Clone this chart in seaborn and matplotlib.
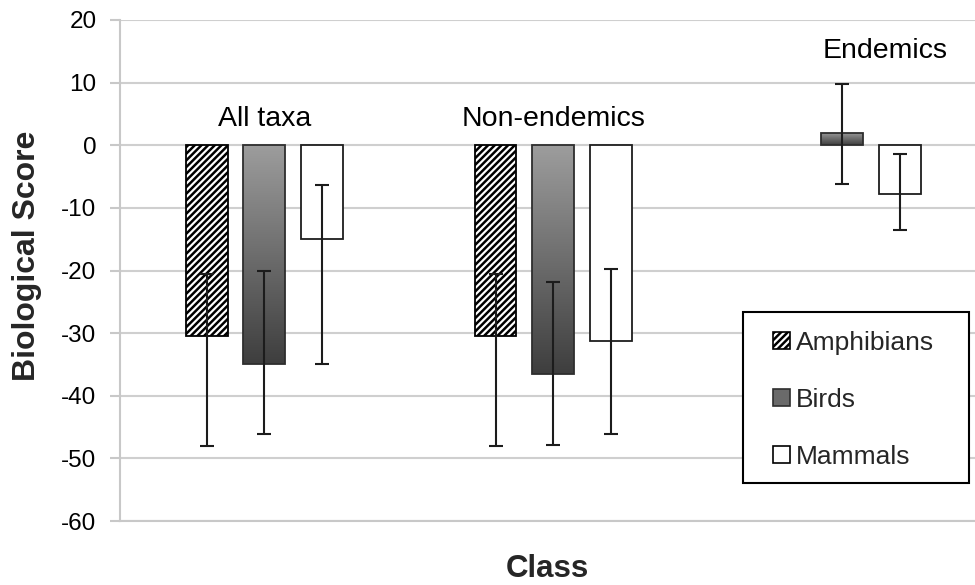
import numpy as np
import pandas as pd
import matplotlib
matplotlib.use("Agg")
import matplotlib.pyplot as plt
import seaborn as sns
from matplotlib.patches import Patch, Rectangle
from matplotlib.colors import LinearSegmentedColormap

groups = ["All taxa", "Non-endemics", "Endemics"]
taxa = ["Amphibians", "Birds", "Mammals"]

amphibians = [-30.5, -30.5, np.nan]
birds = [-35.0, -36.5, 2.0]
mammals = [-15.0, -31.3, -7.8]

# lower / upper ends of the error bars
amphibians_low = [-48.0, -48.0, np.nan]
amphibians_high = [-20.5, -20.6, np.nan]
birds_low = [-46.1, -47.9, -6.2]
birds_high = [-20.0, -21.9, 9.8]
mammals_low = [-35.0, -46.1, -13.5]
mammals_high = [-6.4, -19.7, -1.4]

label_heights = [3.0, 3.0, 13.9]
label_x = [0.0, 1.0, 2.15]

values = {"Amphibians": amphibians, "Birds": birds, "Mammals": mammals}
lows = {"Amphibians": amphibians_low, "Birds": birds_low, "Mammals": mammals_low}
highs = {"Amphibians": amphibians_high, "Birds": birds_high, "Mammals": mammals_high}

rows = []
for t in taxa:
    for g, v, lo, hi in zip(groups, values[t], lows[t], highs[t]):
        rows.append({"group": g, "taxon": t, "score": v, "low": lo, "high": hi})
df = pd.DataFrame(rows).dropna()

sns.set_theme(style="white")
plt.rcParams["font.family"] = ["Liberation Sans", "DejaVu Sans"]
plt.rcParams["hatch.linewidth"] = 1.8
plt.rcParams["axes.unicode_minus"] = False

fig = plt.figure(figsize=(9.75, 5.85), dpi=100)
ax = fig.add_axes([120 / 975, 1 - 521 / 585, 855 / 975, 501 / 585])

sns.barplot(data=df, x="group", y="score", hue="taxon", order=groups,
            hue_order=taxa, width=0.6, gap=0.275, errorbar=None,
            dodge=True, legend=False, ax=ax, zorder=3)

grad = LinearSegmentedColormap.from_list("birds", ["#9d9d9d", "#3e3e3e"])
edge_lw = 1.3

for taxon, container in zip(taxa, ax.containers):
    sub = df[df.taxon == taxon].set_index("group")
    for bar in container:
        xc = bar.get_x() + bar.get_width() / 2
        gi = int(round(xc))
        row = sub.loc[groups[gi]]
        if taxon == "Amphibians":
            bar.set_facecolor("white")
            bar.set_edgecolor("black")
            bar.set_hatch("/////")
            bar.set_linewidth(edge_lw)
        elif taxon == "Birds":
            bar.set_facecolor("none")
            bar.set_edgecolor("#2e2e2e")
            bar.set_linewidth(edge_lw)
            y0, y1 = sorted([bar.get_y(), bar.get_y() + bar.get_height()])
            img = ax.imshow(np.linspace(0, 1, 256).reshape(-1, 1), cmap=grad,
                            extent=(bar.get_x(), bar.get_x() + bar.get_width(), y0, y1),
                            origin="upper", aspect="auto", zorder=2.9)
            img.set_clip_path(bar)
        else:
            bar.set_facecolor("white")
            bar.set_edgecolor("#1e1e1e")
            bar.set_linewidth(edge_lw)
        v = row["score"]
        ax.errorbar(xc, v, yerr=[[v - row["low"]], [row["high"] - v]], fmt="none",
                    ecolor="#1c1c1c", elinewidth=1.5, capsize=4.8, capthick=1.5,
                    zorder=4)

for g, x, y in zip(groups, label_x, label_heights):
    ax.text(x, y, g, ha="center", va="baseline", fontsize=20.5, color="black", zorder=5)

ax.set_xlim(-0.5, 2.46)
ax.set_ylim(-60, 20)
ax.set_yticks(np.arange(-60, 21, 10))
ax.set_xticks([])
ax.grid(axis="y", color="#cfcfcf", linewidth=1.5, zorder=0)
ax.set_axisbelow(True)
for s in ["top", "right"]:
    ax.spines[s].set_visible(False)
for s in ["left", "bottom"]:
    ax.spines[s].set_color("#c8c8c8")
    ax.spines[s].set_linewidth(1.5)
ax.tick_params(axis="y", length=7, width=1.5, color="#c8c8c8", labelsize=17.5,
               labelcolor="black", pad=10, left=True)

ax.set_ylabel("Biological Score", fontsize=23, fontweight="bold")
ax.yaxis.set_label_coords(-0.091, 0.53)
ax.set_xlabel("Class", fontsize=22.5, fontweight="bold", labelpad=24)

# legend box
frame = Rectangle((0.7287, 0.0758), 0.2643, 0.3412, transform=ax.transAxes,
                  facecolor="white", edgecolor="black", linewidth=1.5, zorder=6)
ax.add_patch(frame)

handles = [
    Patch(facecolor="white", edgecolor="black", hatch="/////", linewidth=1.2),
    Patch(facecolor="#6a6a6a", edgecolor="#2e2e2e", linewidth=1.2),
    Patch(facecolor="white", edgecolor="black", linewidth=1.2),
]
leg = ax.legend(handles, taxa, loc="upper left", bbox_to_anchor=(0.764, 0.380),
                borderaxespad=0, borderpad=0, fontsize=19, frameon=False,
                handlelength=0.65, handleheight=0.65, handletextpad=0.2,
                labelspacing=1.25)
leg.set_zorder(7)

fig.savefig("out.png", dpi=100)
